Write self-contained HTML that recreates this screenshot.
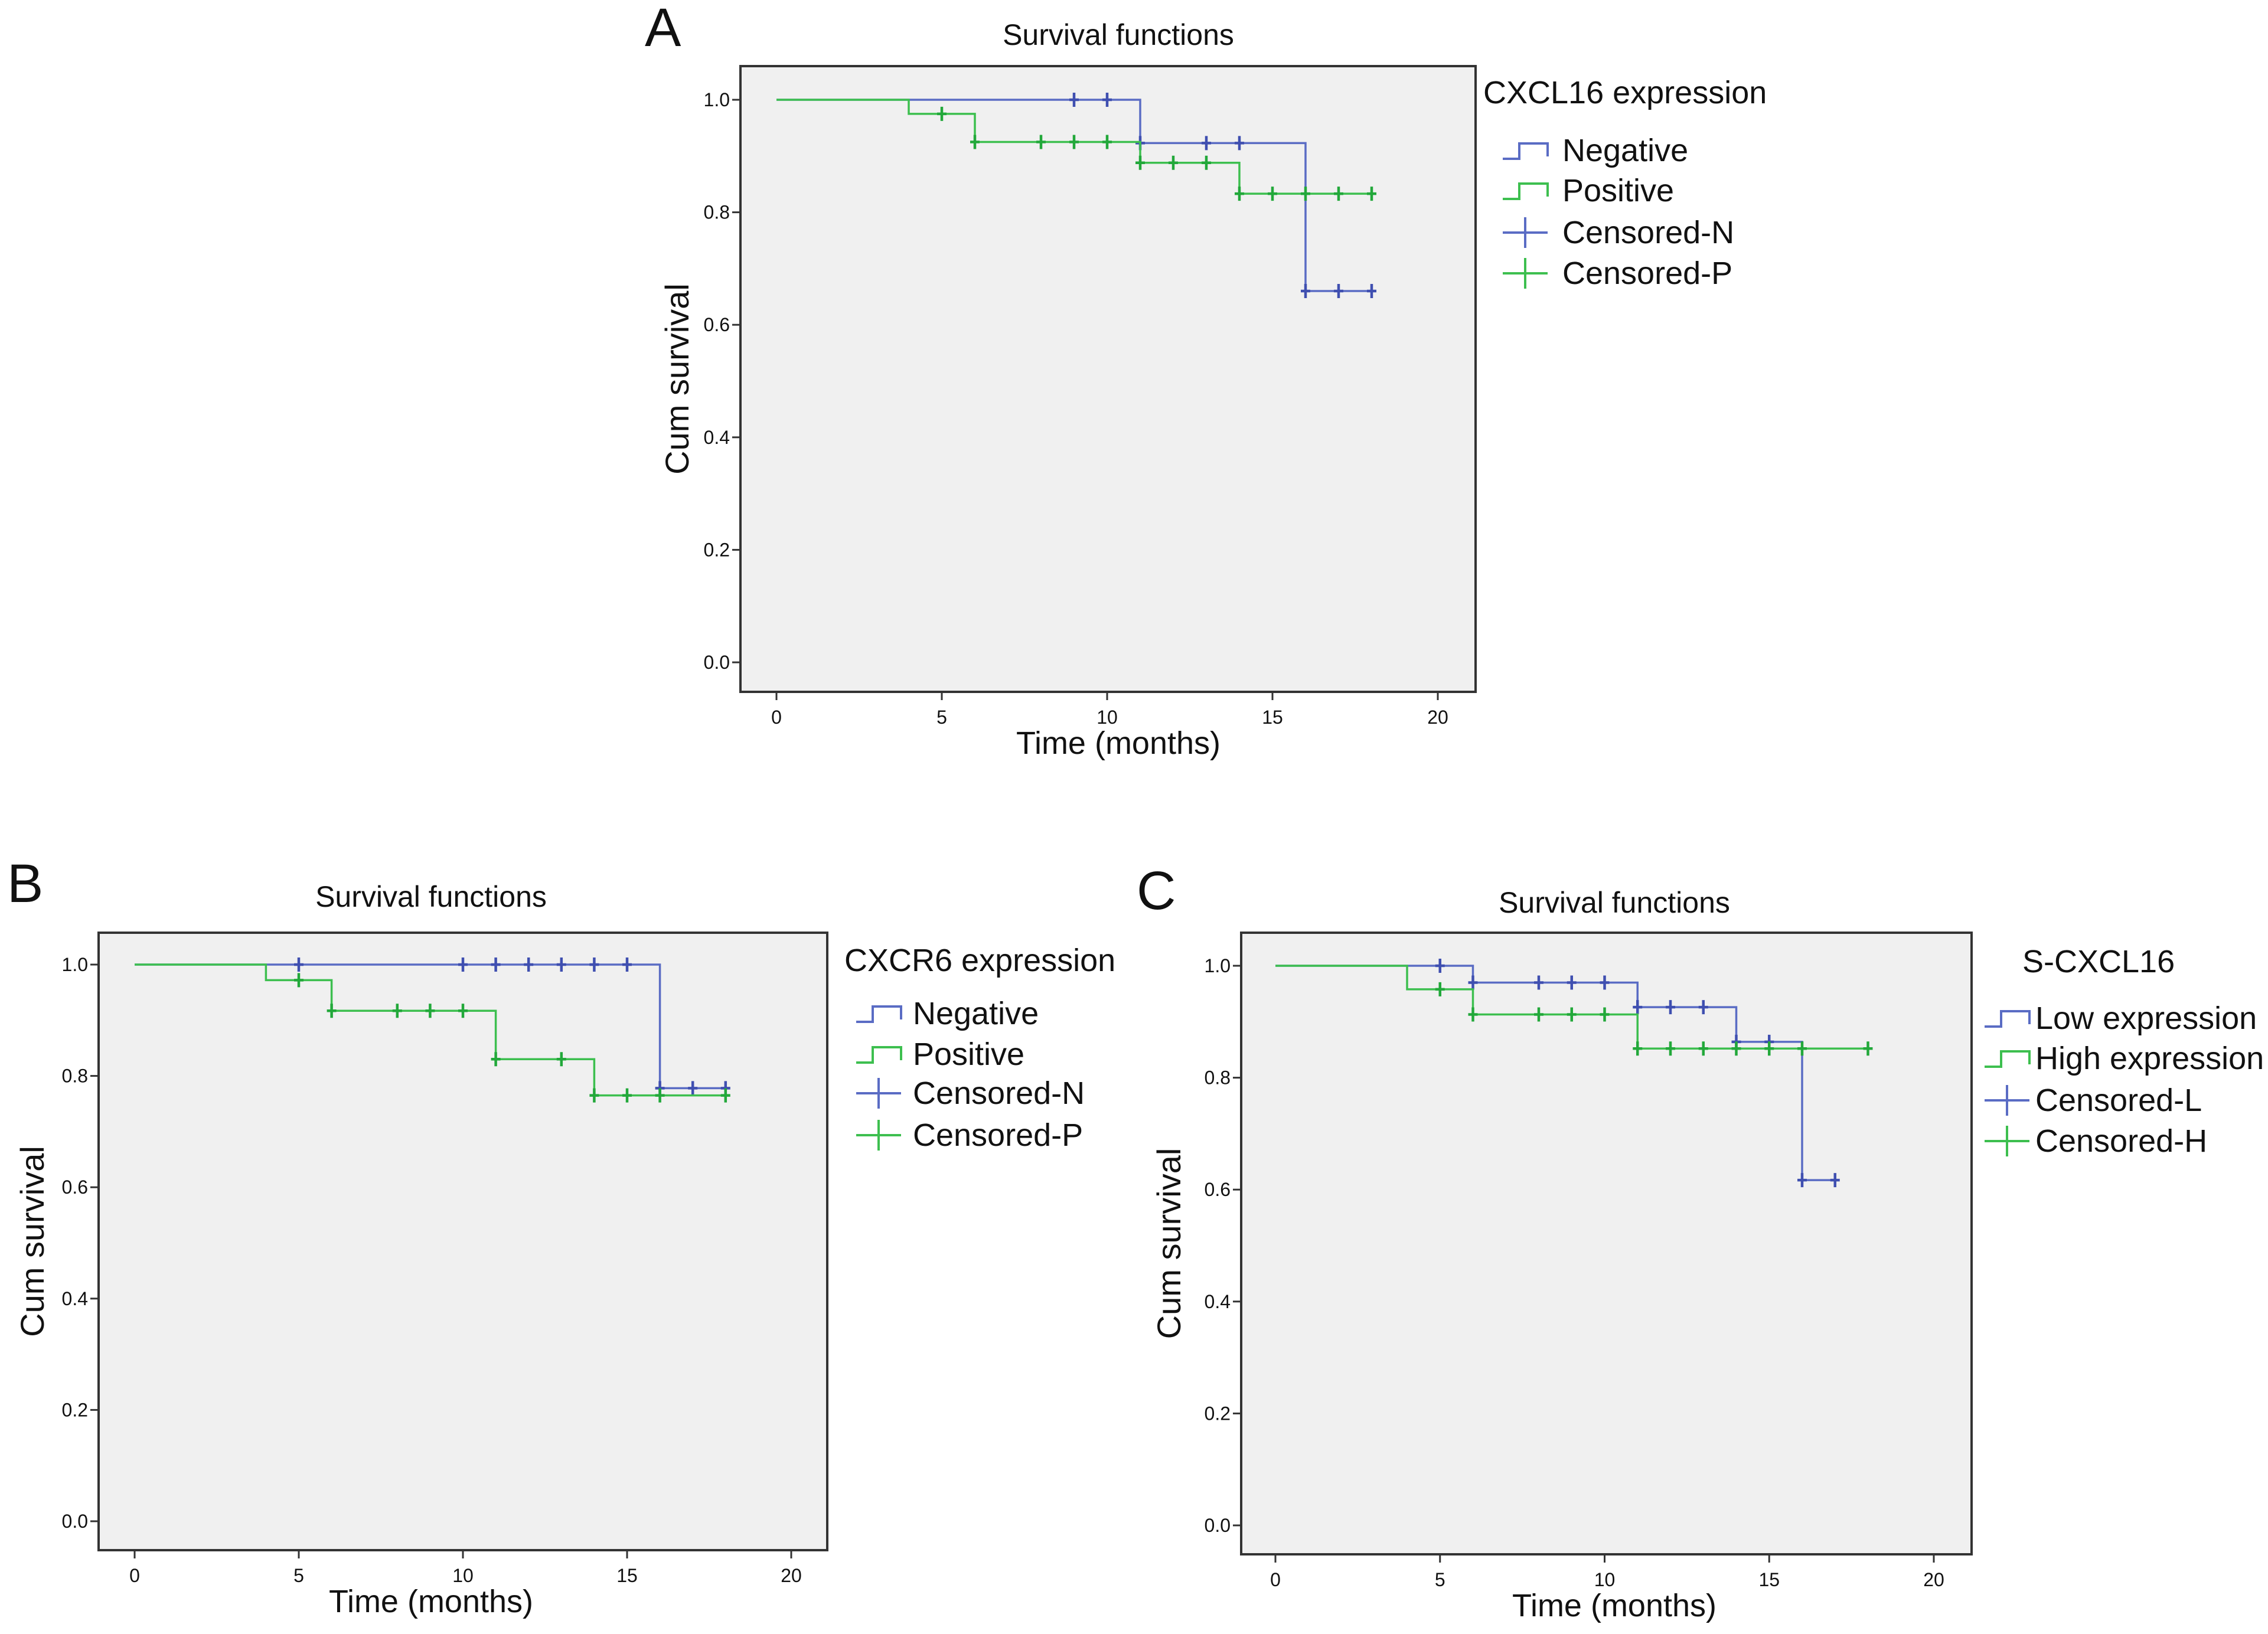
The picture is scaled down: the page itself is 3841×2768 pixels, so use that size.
<!DOCTYPE html>
<html><head><meta charset="utf-8"><style>
html,body{margin:0;padding:0;background:#fff}
svg{display:block}
text{font-family:"Liberation Sans Narrow","Liberation Sans",sans-serif;fill:#111}
</style></head><body>
<svg id="fig" width="3841" height="2768" viewBox="0 0 3841 2768" xmlns="http://www.w3.org/2000/svg"></svg>
<script>
// ---- Panel A data ----
const aNegTimes=[0,11,16,18];
const aNegSurv=[1.0,0.923,0.66,0.66];
const aNegCensT=[9,10,11,13,14,16,17,18];
const aPosTimes=[0,4,6,11,14,18];
const aPosSurv=[1.0,0.975,0.925,0.888,0.833,0.833];
const aPosCensT=[5,6,8,9,10,11,12,13,14,15,16,17,18];
// ---- Panel B data ----
const bNegTimes=[0,16,18];
const bNegSurv=[1.0,0.778,0.778];
const bNegCensT=[5,10,11,12,13,14,15,16,17,18];
const bPosTimes=[0,4,6,11,14,18];
const bPosSurv=[1.0,0.972,0.917,0.83,0.765,0.765];
const bPosCensT=[5,6,8,9,10,11,13,14,15,16,18];
// ---- Panel C data ----
const cLowTimes=[0,6,11,14,16,17];
const cLowSurv=[1.0,0.97,0.926,0.864,0.617,0.617];
const cLowCensT=[5,6,8,9,10,11,12,13,14,15,16,17];
const cHighTimes=[0,4,6,11,18];
const cHighSurv=[1.0,0.958,0.913,0.852,0.852];
const cHighCensT=[5,6,8,9,10,11,12,13,14,15,16,18];
// ---- axis ticks ----
const xTicks=[0,5,10,15,20];
const yTicks=[0.0,0.2,0.4,0.6,0.8,1.0];
const yTickLabels=["0.0","0.2","0.4","0.6","0.8","1.0"];

const NS="http://www.w3.org/2000/svg";
const svg=document.getElementById('fig');
const BLUE="#5a6cc4", GREEN="#3dbf4f", BLUE_D="#3f4fb0", GREEN_D="#22a83a";
function mk(tag,attrs,parent){const e=document.createElementNS(NS,tag);for(const k in attrs)e.setAttribute(k,attrs[k]);(parent||svg).appendChild(e);return e;}
function survAt(times,surv,t){let v=surv[0];for(let i=0;i<times.length;i++){if(times[i]<=t)v=surv[i];}return v;}

function panel(p){
  const g=mk('g',{});
  
  
  const X=t=>p.x0+(t)*(p.x20-p.x0)/20;
  const Y=v=>p.y0-(v)*(p.y0-p.y1);
  const letter=mk('text',{x:p.lx,y:p.ly,'font-size':92,'font-family':'Liberation Sans, sans-serif'},g);letter.textContent=p.id;
  
  const title=mk('text',{x:p.tx,y:p.ty,'font-size':50,'text-anchor':'middle'},g);title.textContent='Survival functions';
  
  const box=mk('rect',{x:p.bx,y:p.by,width:p.bw,height:p.bh,fill:'#f0f0f0',stroke:'#333','stroke-width':4},g);
  
  yTicks.forEach((v,i)=>{
    const tk=mk('line',{x1:p.bx-14,x2:p.bx,y1:Y(v),y2:Y(v),stroke:'#333','stroke-width':3},g);
    
    const t=mk('text',{x:p.bx-18,y:Y(v)+11,'font-size':32,'text-anchor':'end',fill:'#333'},g);t.textContent=yTickLabels[i];
    
  });
  xTicks.forEach(v=>{
    const tk=mk('line',{x1:X(v),x2:X(v),y1:p.by+p.bh,y2:p.by+p.bh+14,stroke:'#333','stroke-width':3},g);
    
    const t=mk('text',{x:X(v),y:p.by+p.bh+54,'font-size':32,'text-anchor':'middle',fill:'#333'},g);t.textContent=v;
    
  });
  const xt=mk('text',{x:p.tx,y:p.by+p.bh+105,'font-size':54,'text-anchor':'middle'},g);xt.textContent='Time (months)';
  
  const yc=(p.by+p.bh/2);
  const yt=mk('text',{x:0,y:0,'font-size':56,'text-anchor':'middle','font-family':'Liberation Sans, sans-serif',transform:`translate(${p.bx-p.yOff},${yc}) rotate(-90)`},g);yt.textContent='Cum survival';
  
  p.series.forEach(s=>{
    let d=`M${X(s.times[0])},${Y(s.surv[0])}`;
    for(let i=1;i<s.times.length;i++){d+=` H${X(s.times[i])} V${Y(s.surv[i])}`;}
    const path=mk('path',{d:d,fill:'none',stroke:s.color,'stroke-width':3.5},g);
    
    s.cens.forEach(t=>{
      const v=survAt(s.times,s.surv,t);
      const c=mk('path',{d:`M${X(t)},${Y(v)-12} V${Y(v)+12} M${X(t)-8},${Y(v)} H${X(t)+8}`,stroke:s.dark,'stroke-width':4.5,fill:'none'},g);
      
    });
  });
  const lt=mk('text',{x:p.legX,y:p.legY,'font-size':54},g);lt.textContent=p.legTitle;
  
  p.legend.forEach((e,i)=>{
    const y=p.legRows[i];
    const le=mk('g',{},g);
    
    const sx=p.symX;
    if(e.kind==='step'){mk('path',{d:`M${sx},${y+14} H${sx+28} V${y-12} H${sx+76} V${y+10}`,fill:'none',stroke:e.color,'stroke-width':4},le);}
    else{mk('path',{d:`M${sx},${y} H${sx+76} M${sx+38},${y-26} V${y+26}`,fill:'none',stroke:e.color,'stroke-width':4},le);}
    const t=mk('text',{x:p.textX,y:y+18,'font-size':54},le);t.textContent=e.label;
  });
}

panel({id:'A',lx:1092,ly:78,tx:1894,ty:76,bx:1254,by:112,bw:1245,bh:1060,x0:1315,x20:2435,y0:1122,y1:169,yOff:88,
  legTitle:'CXCL16 expression',legX:2512,legY:175,symX:2545,textX:2646,legRows:[255,323,394,463],
  series:[{key:'negative',times:aNegTimes,surv:aNegSurv,cens:aNegCensT,color:BLUE,dark:BLUE_D},
          {key:'positive',times:aPosTimes,surv:aPosSurv,cens:aPosCensT,color:GREEN,dark:GREEN_D}],
  legend:[{kind:'step',color:BLUE,label:'Negative'},{kind:'step',color:GREEN,label:'Positive'},{kind:'cross',color:BLUE,label:'Censored-N'},{kind:'cross',color:GREEN,label:'Censored-P'}]});

panel({id:'B',lx:12,ly:1528,tx:730,ty:1536,bx:167,by:1580,bw:1234,bh:1046,x0:228,x20:1340,y0:2577,y1:1634,yOff:93,
  legTitle:'CXCR6 expression',legX:1430,legY:1645,symX:1450,textX:1546,legRows:[1717,1786,1852,1923],
  series:[{key:'negative',times:bNegTimes,surv:bNegSurv,cens:bNegCensT,color:BLUE,dark:BLUE_D},
          {key:'positive',times:bPosTimes,surv:bPosSurv,cens:bPosCensT,color:GREEN,dark:GREEN_D}],
  legend:[{kind:'step',color:BLUE,label:'Negative'},{kind:'step',color:GREEN,label:'Positive'},{kind:'cross',color:BLUE,label:'Censored-N'},{kind:'cross',color:GREEN,label:'Censored-P'}]});

panel({id:'C',lx:1925,ly:1540,tx:2734,ty:1546,bx:2102,by:1580,bw:1237,bh:1053,x0:2160,x20:3275,y0:2584,y1:1636,yOff:103,
  legTitle:'S-CXCL16',legX:3425,legY:1647,symX:3361,textX:3447,legRows:[1725,1793,1864,1933],
  series:[{key:'low',times:cLowTimes,surv:cLowSurv,cens:cLowCensT,color:BLUE,dark:BLUE_D},
          {key:'high',times:cHighTimes,surv:cHighSurv,cens:cHighCensT,color:GREEN,dark:GREEN_D}],
  legend:[{kind:'step',color:BLUE,label:'Low expression'},{kind:'step',color:GREEN,label:'High expression'},{kind:'cross',color:BLUE,label:'Censored-L'},{kind:'cross',color:GREEN,label:'Censored-H'}]});
</script>
</body></html>
